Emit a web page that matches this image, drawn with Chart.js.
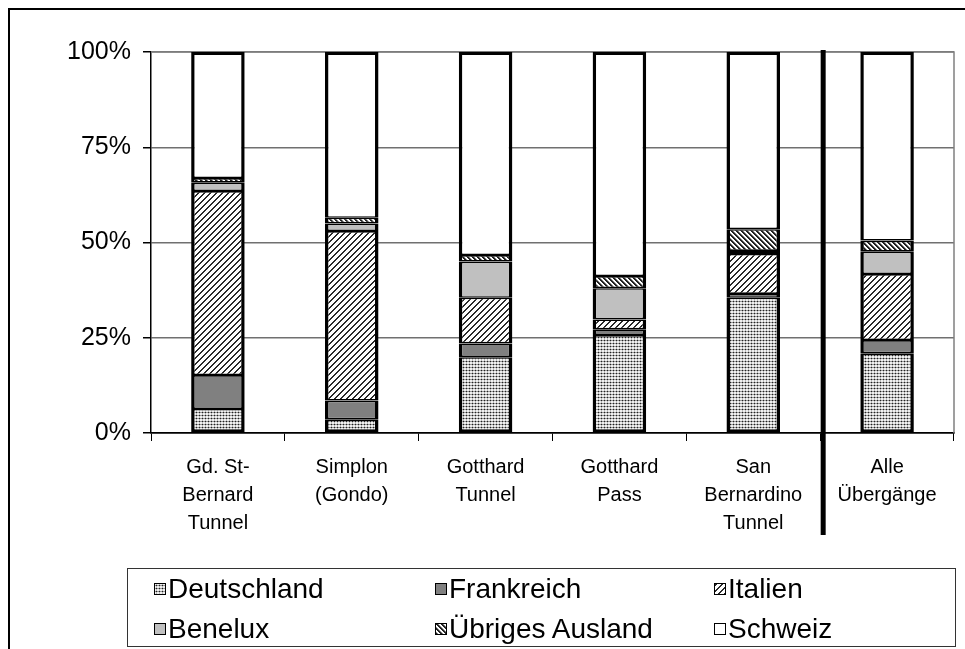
<!DOCTYPE html>
<html>
<head>
<meta charset="utf-8">
<script src="https://cdn.jsdelivr.net/npm/chart.js@4"></script>
<style>
  html, body { margin: 0; padding: 0; background: #fff; }
  #wrap { position: relative; width: 965px; height: 649px; overflow: hidden; }
  #c { position: absolute; left: 0; top: 0; }
  #legend { position: absolute; left: 127px; top: 568px; width: 829px; height: 79px; border: 1px solid #333; box-sizing: border-box; }
  .item { position: absolute; font-family: 'Liberation Sans', Arial, sans-serif; font-size: 28px; color: #000; line-height: 32px; white-space: nowrap; }
  .sw { position: absolute; width: 10px; height: 10px; border: 1.5px solid #000; }
</style>
</head>
<body>
<div id="wrap">
  <canvas id="c" width="965" height="649"></canvas>
  <div id="legend"></div>
</div>
<script>
// ---- data ----
const categories = [
  ['Gd. St-', 'Bernard', 'Tunnel'],
  ['Simplon', '(Gondo)'],
  ['Gotthard', 'Tunnel'],
  ['Gotthard', 'Pass'],
  ['San', 'Bernardino', 'Tunnel'],
  ['Alle', 'Übergänge']
];
const seriesNames = ['Deutschland', 'Frankreich', 'Italien', 'Benelux', 'Übriges Ausland', 'Schweiz'];
const deutschland = [6.3, 3.6, 19.9, 25.7, 35.5, 20.9];
const frankreich  = [8.9, 4.9, 3.6, 1.5, 1.0, 3.5];
const italien     = [48.3, 44.5, 12.0, 2.6, 10.5, 17.3];
const benelux     = [2.2, 2.0, 9.5, 8.2, 0.8, 5.9];
const uebriges    = [1.2, 1.5, 1.7, 3.2, 5.7, 2.9];
const schweiz     = [33.1, 43.5, 53.3, 58.8, 46.5, 49.5];
const yTickValues = [0, 25, 50, 75, 100];

// ---- patterns ----
function tile(size, painter) {
  const c = document.createElement('canvas');
  c.width = size; c.height = size;
  const g = c.getContext('2d');
  painter(g, size);
  return c;
}
function px(g, x, y, col) { g.fillStyle = col; g.fillRect(x, y, 1, 1); }
const tDots = tile(3, (g, s) => {
  g.fillStyle = '#f0f0f0'; g.fillRect(0, 0, s, s);
  px(g, 1, 1, '#222');
  px(g, 0, 1, '#999'); px(g, 2, 1, '#999');
  px(g, 1, 0, '#b8b8b8'); px(g, 1, 2, '#b8b8b8');
});
const tSlash = tile(6, (g, s) => {
  g.fillStyle = '#fff'; g.fillRect(0, 0, s, s);
  for (let x = 0; x < s; x++) for (let y = 0; y < s; y++) {
    const m = (x + y) % s;
    if (m === 0 || m === 1) px(g, x, y, '#2a2a2a');
  }
});
const tBack = tile(5, (g, s) => {
  g.fillStyle = '#fff'; g.fillRect(0, 0, s, s);
  for (let x = 0; x < s; x++) for (let y = 0; y < s; y++) {
    const m = ((x - y) % s + s) % s;
    if (m === 0 || m === 1) px(g, x, y, '#222');
    else if (m === 2) px(g, x, y, '#888');
  }
});
const ctx0 = document.getElementById('c').getContext('2d');
const fills = [
  ctx0.createPattern(tDots, 'repeat'),
  '#808080',
  ctx0.createPattern(tSlash, 'repeat'),
  '#c0c0c0',
  ctx0.createPattern(tBack, 'repeat'),
  '#ffffff'
];
const swatchCss = [
  'url(' + tDots.toDataURL() + ')',
  '#808080',
  'url(' + tSlash.toDataURL() + ')',
  '#c0c0c0',
  'url(' + tBack.toDataURL() + ')',
  '#ffffff'
];
const seriesData = [deutschland, frankreich, italien, benelux, uebriges, schweiz];
const lastIdx = seriesData.length - 1;

const FONT = "'Liberation Sans', Arial, sans-serif";

const decor = {
  id: 'decor',
  beforeDraw(chart) {
    const c = chart.ctx;
    c.save();
    c.fillStyle = '#fff';
    c.fillRect(0, 0, chart.width, chart.height);
    c.strokeStyle = '#000';
    c.lineWidth = 2;
    c.strokeRect(9, 9, chart.width + 20, chart.height + 20);
    c.restore();
  },
  beforeDatasetsDraw(chart) {
    const a = chart.chartArea, c = chart.ctx;
    c.save();
    c.strokeStyle = '#808080';
    c.lineWidth = 1.5;
    c.beginPath();
    c.moveTo(a.left, a.top);
    c.lineTo(a.right, a.top);
    c.lineTo(a.right, a.bottom);
    c.stroke();
    c.restore();
  },
  afterDraw(chart) {
    const a = chart.chartArea, c = chart.ctx, xs = chart.scales.x;
    const x = (xs.getPixelForValue(4) + xs.getPixelForValue(5)) / 2 + 3;
    c.save();
    c.fillStyle = '#000';
    c.fillRect(x - 2.5, a.top - 2, 5, a.bottom + 102 - (a.top - 2));
    c.restore();
  }
};

new Chart(ctx0, {
  type: 'bar',
  data: {
    labels: categories,
    datasets: seriesNames.map((n, i) => ({
      label: n,
      data: seriesData[i],
      backgroundColor: fills[i],
      borderColor: '#000',
      borderWidth: (c) => ({
        top: c.datasetIndex === lastIdx ? 3 : 1.6,
        bottom: c.datasetIndex === 0 ? 3 : 1.6,
        left: 3.5,
        right: 3.5
      }),
      borderSkipped: false,
      barPercentage: 0.8,
      categoryPercentage: 0.5
    }))
  },
  options: {
    responsive: false,
    animation: false,
    devicePixelRatio: 1,
    layout: { padding: { top: 52, right: 11, left: 0, bottom: 0 } },
    plugins: { legend: { display: false }, tooltip: { enabled: false } },
    scales: {
      x: {
        stacked: true,
        afterFit(s) { s.height = 216; },
        grid: { offset: true, drawOnChartArea: false, color: '#000', tickColor: '#000', tickLength: 8 },
        border: { color: '#000', width: 1.5 },
        ticks: { color: '#000', font: { family: FONT, size: 20, lineHeight: 1.38 }, padding: 13, maxRotation: 0, autoSkip: false }
      },
      y: {
        stacked: true,
        min: 0, max: 100,
        afterFit(s) { s.width = 151; },
        afterBuildTicks(s) { s.ticks = yTickValues.map(v => ({ value: v })); },
        grid: {
          color: (c) => (c.tick && c.tick.value === 0) ? '#000' : '#707070',
          tickColor: '#000', tickLength: 8, lineWidth: 1.5
        },
        border: { color: '#000', width: 1.5 },
        ticks: { color: '#000', font: { family: FONT, size: 25 }, padding: 12, callback: v => v + '%' }
      }
    }
  },
  plugins: [decor]
});

// ---- HTML legend (3 columns x 2 rows) ----
const legend = document.getElementById('legend');
const colSw = [153, 434, 713];
const colTx = [167, 448, 727];
const rowY = [588, 628];
seriesNames.forEach((n, i) => {
  const col = i % 3, row = Math.floor(i / 3);
  const sw = document.createElement('div');
  sw.className = 'sw';
  sw.style.left = (colSw[col] - 127) + 'px';
  sw.style.top = (rowY[row] - 568 - 6) + 'px';
  sw.style.background = swatchCss[i];
  legend.appendChild(sw);
  const t = document.createElement('div');
  t.className = 'item';
  t.textContent = n;
  t.style.left = (colTx[col] - 127) + 'px';
  t.style.top = (rowY[row] - 568 - 16) + 'px';
  legend.appendChild(t);
});
</script>
</body>
</html>
